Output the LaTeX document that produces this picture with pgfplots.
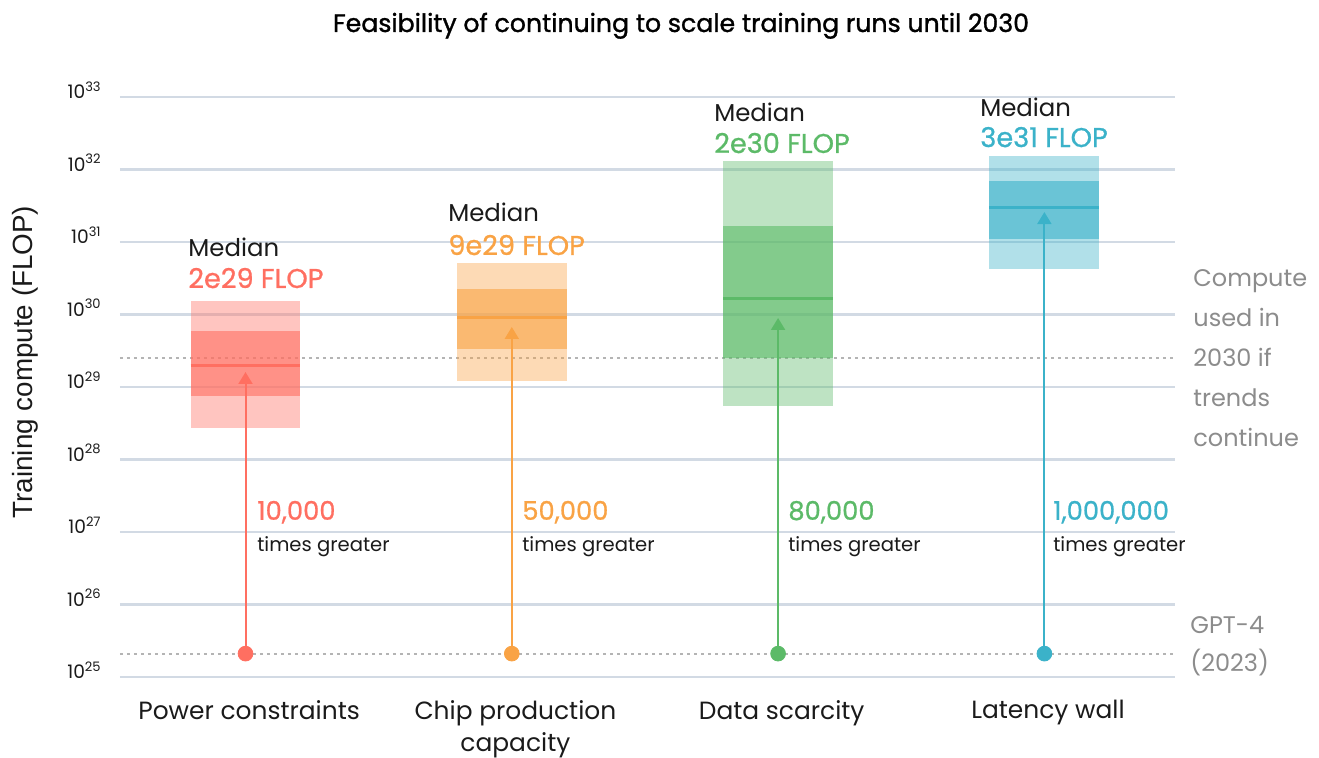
\documentclass[border=0pt]{standalone}
\usepackage{pgfplots}
\pgfplotsset{compat=1.18}
\usepackage{fontspec}
\setmainfont{Poppins}
\newfontfamily\medfont[FakeBold=0.8]{Poppins}
\newfontfamily\titlefont[FakeBold=1.2]{Poppins}
\newfontfamily\arialfont{Liberation Sans}
\usetikzlibrary{arrows.meta}
\definecolor{cred}{HTML}{FF6F61}
\definecolor{corange}{HTML}{F9A345}
\definecolor{cgreen}{HTML}{5CBA68}
\definecolor{cteal}{HTML}{3BB2C9}
\definecolor{gridc}{HTML}{D2DAE4}
\definecolor{graytxt}{HTML}{8C8C8C}
\definecolor{dotc}{HTML}{B4B4B4}
\definecolor{txt}{HTML}{1A1A1A}
\begin{document}
\begin{tikzpicture}
\begin{scope}[x=0.5pt,y=-0.5pt,shift={(-60pt,338.5pt)}]
\path[use as bounding box] (0,0) rectangle (1319,757);
\end{scope}
\begin{axis}[
  at={(0,0)}, anchor=south west, scale only axis,
  width=527.5pt, height=290pt,
  xmin=-0.4713, xmax=3.4905,
  ymode=log, ymin=1e25, ymax=1e33,
  clip=false,
  axis line style={draw=none},
  major tick length=0pt, minor tick length=0pt,
  yminorticks=false, tick style={draw=none},
  ytick={1e25,1e26,1e27,1e28,1e29,1e30,1e31,1e32,1e33},
  yticklabels={10\textsuperscript{25},10\textsuperscript{26},10\textsuperscript{27},10\textsuperscript{28},10\textsuperscript{29},10\textsuperscript{30},10\textsuperscript{31},10\textsuperscript{32},10\textsuperscript{33}},
  yticklabel style={font=\fontsize{9.3}{11}\selectfont, text=txt, anchor=base east, inner sep=0pt, xshift=-9pt, yshift=-1pt},
  ymajorgrids, grid style={gridc, line width=1.3pt},
  xtick={0,1,2,3},
  xticklabels={Power constraints,{Chip production\\capacity},Data scarcity,Latency wall},
  xticklabel style={font=\fontsize{12.45}{16}\selectfont, text=txt, align=center, anchor=north, inner sep=0pt, yshift=-11.5pt, xshift=1.8pt},
  every axis plot/.append style={line cap=butt},
]
% dotted reference lines
\addplot[dotc, line width=1pt, dash pattern=on 1.5pt off 2pt] coordinates {(-0.4713,2.51e29) (3.4905,2.51e29)};
\addplot[dotc, line width=1pt, dash pattern=on 1.5pt off 2pt] coordinates {(-0.4713,2.1e25) (3.4905,2.1e25)};

% Power constraints
\addplot[draw=none, fill=cred, fill opacity=0.4] coordinates {(-0.2065,2.72e28) (0.2065,2.72e28) (0.2065,1.53e30) (-0.2065,1.53e30)};
\addplot[draw=none, fill=cred, fill opacity=0.6] coordinates {(-0.2065,7.52e28) (0.2065,7.52e28) (0.2065,5.92e29) (-0.2065,5.92e29)};
\addplot[cred, line width=1.5pt] coordinates {(-0.2065,2e29) (0.2065,2e29)};
\addplot[cred, line width=1pt, -{Triangle[width=7pt,length=6pt]}] coordinates {(0,2.1e25) (0,1.61e29)};
\addplot[only marks, mark=*, mark size=3.7pt, cred, mark options={draw=none, fill=cred}] coordinates {(0,2.1e25)};

% Chip production capacity
\addplot[draw=none, fill=corange, fill opacity=0.4] coordinates {(0.7935,1.21e29) (1.2065,1.21e29) (1.2065,5.13e30) (0.7935,5.13e30)};
\addplot[draw=none, fill=corange, fill opacity=0.6] coordinates {(0.7935,3.34e29) (1.2065,3.34e29) (1.2065,2.25e30) (0.7935,2.25e30)};
\addplot[corange, line width=1.5pt] coordinates {(0.7935,9e29) (1.2065,9e29)};
\addplot[corange, line width=1pt, -{Triangle[width=7pt,length=6pt]}] coordinates {(1,2.1e25) (1,6.73e29)};
\addplot[only marks, mark=*, mark size=3.7pt, corange, mark options={draw=none, fill=corange}] coordinates {(1,2.1e25)};

% Data scarcity
\addplot[draw=none, fill=cgreen, fill opacity=0.4] coordinates {(1.7935,5.47e28) (2.2065,5.47e28) (2.2065,1.31e32) (1.7935,1.31e32)};
\addplot[draw=none, fill=cgreen, fill opacity=0.6] coordinates {(1.7935,2.51e29) (2.2065,2.51e29) (2.2065,1.66e31) (1.7935,1.66e31)};
\addplot[cgreen, line width=1.5pt] coordinates {(1.7935,1.64e30) (2.2065,1.64e30)};
\addplot[cgreen, line width=1pt, -{Triangle[width=7pt,length=6pt]}] coordinates {(2,2.1e25) (2,8.95e29)};
\addplot[only marks, mark=*, mark size=3.7pt, cgreen, mark options={draw=none, fill=cgreen}] coordinates {(2,2.1e25)};

% Latency wall
\addplot[draw=none, fill=cteal, fill opacity=0.4] coordinates {(2.7935,4.25e30) (3.2065,4.25e30) (3.2065,1.53e32) (2.7935,1.53e32)};
\addplot[draw=none, fill=cteal, fill opacity=0.6] coordinates {(2.7935,1.10e31) (3.2065,1.10e31) (3.2065,6.93e31) (2.7935,6.93e31)};
\addplot[cteal, line width=1.5pt] coordinates {(2.7935,3e31) (3.2065,3e31)};
\addplot[cteal, line width=1pt, -{Triangle[width=7pt,length=6pt]}] coordinates {(3,2.1e25) (3,2.59e31)};
\addplot[only marks, mark=*, mark size=3.7pt, cteal, mark options={draw=none, fill=cteal}] coordinates {(3,2.1e25)};

% Median labels
\begin{scope}[every node/.style={inner sep=0pt, anchor=base west}]
\node[text=txt, font=\fontsize{12.2}{14}\selectfont] at (axis cs:-0.216,6.21e30) {Median};
\node[text=cred, font=\medfont\fontsize{13.6}{15}\selectfont] at (axis cs:-0.216,2.32e30) {2e29 FLOP};
\node[text=txt, font=\fontsize{12.2}{14}\selectfont] at (axis cs:0.760,1.89e31) {Median};
\node[text=corange, font=\medfont\fontsize{13.6}{15}\selectfont] at (axis cs:0.760,6.62e30) {9e29 FLOP};
\node[text=txt, font=\fontsize{12.2}{14}\selectfont] at (axis cs:1.759,4.52e32) {Median};
\node[text=cgreen, font=\medfont\fontsize{13.6}{15}\selectfont] at (axis cs:1.759,1.69e32) {2e30 FLOP};
\node[text=txt, font=\fontsize{12.2}{14}\selectfont] at (axis cs:2.758,5.30e32) {Median};
\node[text=cteal, font=\medfont\fontsize{13.6}{15}\selectfont] at (axis cs:2.758,2.04e32) {3e31 FLOP};
\end{scope}
% arrow labels
\begin{scope}[every node/.style={inner sep=0pt, anchor=base west}]
\node[text=cred, font=\medfont\fontsize{12.9}{14}\selectfont] at (axis cs:0.043,1.47e27) {10,000};
\node[text=txt, font=\fontsize{9.8}{12}\selectfont] at (axis cs:0.043,5.30e26) {times greater};
\node[text=corange, font=\medfont\fontsize{12.9}{14}\selectfont] at (axis cs:1.038,1.47e27) {50,000};
\node[text=txt, font=\fontsize{9.8}{12}\selectfont] at (axis cs:1.038,5.30e26) {times greater};
\node[text=cgreen, font=\medfont\fontsize{12.9}{14}\selectfont] at (axis cs:2.037,1.47e27) {80,000};
\node[text=txt, font=\fontsize{9.8}{12}\selectfont] at (axis cs:2.037,5.30e26) {times greater};
\node[text=cteal, font=\medfont\fontsize{12.9}{14}\selectfont] at (axis cs:3.032,1.47e27) {1,000,000};
\node[text=txt, font=\fontsize{9.8}{12}\selectfont] at (axis cs:3.032,5.30e26) {times greater};
\end{scope}
\end{axis}
\begin{scope}[x=0.5pt,y=-0.5pt,shift={(-60pt,338.5pt)}]
\node[font=\titlefont\fontsize{12.6}{14}\selectfont, text=black, anchor=base, inner sep=0pt] at (681,32) {Feasibility of continuing to scale training runs until 2030};
\node[font=\arialfont\fontsize{13.9}{16}\selectfont, text=txt, rotate=90, anchor=base, inner sep=0pt] at (33,362) {Training compute (FLOP)};
\begin{scope}[every node/.style={inner sep=0pt, anchor=base west, text=graytxt, font=\fontsize{12}{14}\selectfont}]
\node at (1193,286) {Compute};
\node at (1193,326) {used in};
\node at (1193,366) {2030 if};
\node at (1193,406) {trends};
\node at (1193,446) {continue};
\node at (1190,633) {GPT-4};
\node at (1190,671) {(2023)};
\end{scope}
\end{scope}
\end{tikzpicture}
\end{document}
